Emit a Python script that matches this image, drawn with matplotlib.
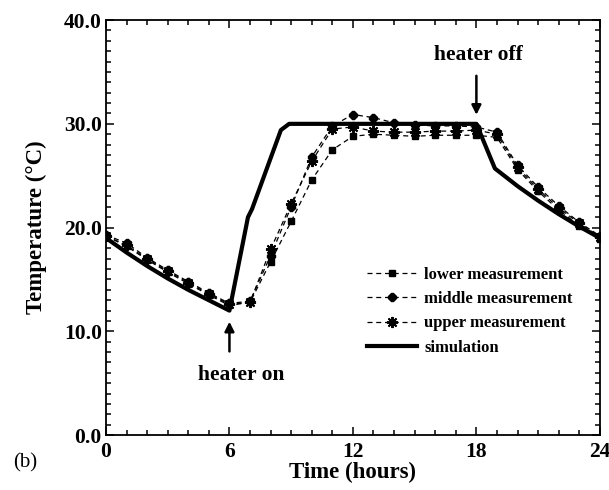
import matplotlib
matplotlib.use("Agg")
import matplotlib.pyplot as plt
from matplotlib.ticker import MultipleLocator, FormatStrFormatter

plt.rcParams['font.family'] = ['Liberation Serif', 'DejaVu Serif']

# hourly measurements
hours = list(range(25))
lower = [19.2, 18.2, 16.9, 15.7, 14.6, 13.5, 12.5, 12.8, 16.7, 20.6, 24.6, 27.5, 28.8,
         29.0, 28.9, 28.8, 28.9, 28.9, 28.9, 28.7, 25.6, 23.5, 21.7, 20.2, 18.9]
middle = [19.3, 18.5, 17.1, 15.9, 14.8, 13.7, 12.7, 12.9, 17.3, 22.0, 26.8, 29.8, 30.9,
          30.6, 30.1, 29.9, 29.8, 29.8, 29.7, 29.2, 26.0, 23.9, 22.1, 20.5, 19.2]
upper = [19.2, 18.3, 17.0, 15.8, 14.7, 13.6, 12.6, 12.8, 17.9, 22.3, 26.4, 29.5, 29.7,
         29.3, 29.2, 29.2, 29.3, 29.3, 29.4, 29.0, 25.8, 23.7, 21.9, 20.4, 19.1]

# simulation curve
sim_t = [0, 1, 2, 3, 4, 5, 6, 6.9, 7.1, 8.5, 8.9, 18, 18.9, 20, 21, 22, 23, 24]
sim_T = [19.0, 17.6, 16.3, 15.1, 14.0, 13.0, 12.0, 21.0, 21.8, 29.4, 30.0, 30.0,
         25.7, 24.0, 22.6, 21.3, 20.1, 19.0]

fig = plt.figure(figsize=(6.09, 4.9), dpi=100)
ax = fig.add_axes([0.174, 0.112, 0.811, 0.847])

ax.plot(hours, lower, color='black', ls=(0, (4, 3)), lw=0.9, marker='s', ms=5,
        label='lower measurement')
ax.plot(hours, middle, color='black', ls=(0, (4, 3)), lw=0.9, marker='8', ms=5.5,
        label='middle measurement')
ax.plot(hours, upper, color='black', ls=(0, (4, 3)), lw=0.9, marker=(8, 2, 0), ms=8,
        mew=1.4, label='upper measurement')
ax.plot(sim_t, sim_T, color='black', lw=3, label='simulation')

ax.set_xlim(0, 24)
ax.set_ylim(0, 40)
ax.xaxis.set_major_locator(MultipleLocator(6))
ax.xaxis.set_minor_locator(MultipleLocator(1))
ax.yaxis.set_major_locator(MultipleLocator(10))
ax.yaxis.set_minor_locator(MultipleLocator(1))
ax.yaxis.set_major_formatter(FormatStrFormatter('%.1f'))
ax.tick_params(which='both', direction='in', top=True, right=True, width=1.1)
ax.tick_params(which='major', length=6, labelsize=15.5)
ax.tick_params(axis='x', which='major', pad=5)
ax.tick_params(axis='y', which='major', pad=3)
ax.tick_params(which='minor', length=3.5)
for lab in ax.get_xticklabels() + ax.get_yticklabels():
    lab.set_fontweight('bold')
for sp in ax.spines.values():
    sp.set_linewidth(1.3)

ax.set_xlabel('Time (hours)', fontsize=16.5, fontweight='bold', labelpad=0)
ax.set_ylabel('Temperature (°C)', fontsize=16.5, fontweight='bold', labelpad=12)

ax.annotate('heater on', xy=(6, 11.2), xytext=(6.55, 5.8), ha='center', va='center',
            fontsize=15.5, fontweight='bold')
ax.annotate('', xy=(6, 11.2), xytext=(6, 7.8),
            arrowprops=dict(arrowstyle='-|>', color='black', lw=1.8, mutation_scale=14))
ax.annotate('heater off', xy=(18, 30.8), xytext=(18.1, 36.6), ha='center', va='center',
            fontsize=15.5, fontweight='bold')
ax.annotate('', xy=(18, 30.6), xytext=(18, 34.9),
            arrowprops=dict(arrowstyle='-|>', color='black', lw=1.8, mutation_scale=14))

leg = ax.legend(loc='lower right', bbox_to_anchor=(0.975, 0.155), frameon=False,
                prop={'weight': 'bold', 'size': 12}, handlelength=3.0,
                labelspacing=0.5, handletextpad=0.4)

fig.text(0.022, 0.045, '(b)', fontsize=15)

fig.savefig('out.png', dpi=100)
